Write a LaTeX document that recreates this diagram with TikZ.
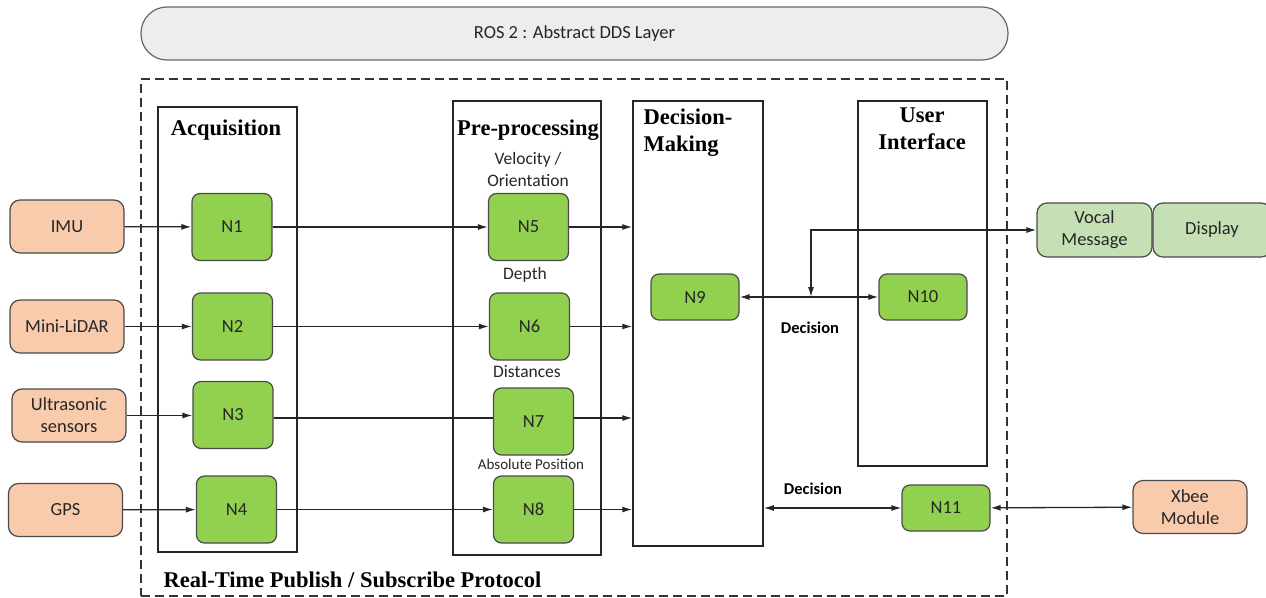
\documentclass[tikz,border=0pt]{standalone}
\usepackage{fontspec}
\setmainfont{Carlito}
\newfontfamily\hdrfont{Liberation Serif}
\usetikzlibrary{arrows.meta,positioning}
\definecolor{sensorfill}{HTML}{F8CBAD}
\definecolor{nodefill}{HTML}{92D050}
\definecolor{outfill}{HTML}{C5E0B4}
\definecolor{barfill}{HTML}{EDEDED}
\definecolor{edge}{HTML}{4A4A4A}
\tikzset{
  every node/.style={font=\fontsize{18.5}{22}\selectfont, text=black!85},
  sensor/.style={draw=edge, line width=1.2pt, fill=sensorfill, rounded corners=10pt,
    minimum width=114pt, minimum height=53pt, align=center, inner sep=0pt},
  rosnode/.style={draw=edge, line width=1.2pt, fill=nodefill, rounded corners=8pt,
    minimum width=80pt, minimum height=67pt, inner sep=0pt},
  smallnode/.style={rosnode, minimum width=88pt, minimum height=46pt},
  outbox/.style={draw=edge, line width=1.2pt, fill=outfill, rounded corners=10pt,
    minimum width=114pt, minimum height=54pt, align=center, inner sep=0pt},
  group/.style={draw=black!85, line width=1.5pt, inner sep=0pt},
  header/.style={font=\hdrfont\bfseries\fontsize{22.5}{27}\selectfont, text=black, align=center},
  topic/.style={font=\fontsize{17.5}{22}\selectfont, align=center},
  decision/.style={font=\bfseries\fontsize{16.5}{20}\selectfont, text=black},
  link/.style={line width=1.3pt, draw=black!85, -{Latex[length=10pt,width=6pt]}},
  plain/.style={line width=1.3pt, draw=black!85},
  biline/.style={line width=1.3pt, draw=black!85, {Latex[length=10pt,width=6pt]}-{Latex[length=10pt,width=6pt]}},
}
\begin{document}
\begin{tikzpicture}[x=1pt,y=-1pt]
\useasboundingbox (0,0) rectangle (1266,597);

% DDS abstraction bar
\node[draw=black!60, line width=1.2pt, fill=barfill, rounded corners=26pt,
  minimum width=867pt, minimum height=53pt, inner sep=0pt] (ros) at (574.5,33.5) {};
\node at (574.5,33.5) {ROS 2 : Abstract DDS Layer};

% real-time publish/subscribe boundary
\node[draw=black!80, line width=1.2pt, dash pattern=on 9pt off 5pt,
  minimum width=866pt, minimum height=517pt, inner sep=0pt] (rtps) at (574,337.5) {};
\node[header, anchor=west] (rtpslabel) at (160,580) {Real-Time Publish / Subscribe Protocol};

% functional groups
\node[group, minimum width=139pt, minimum height=445pt] (acq) at (227.5,329.5) {};
\node[group, minimum width=148pt, minimum height=454pt] (pre) at (527,328) {};
\node[group, minimum width=130pt, minimum height=445pt] (dm) at (698,323.5) {};
\node[group, minimum width=129pt, minimum height=365pt] (ui) at (922.5,283.5) {};

\node[header] (acqlabel) at (226,130) {Acquisition};
\node[header] (prelabel) at (528,130) {Pre-processing};
\node[header, align=left, anchor=north west] (dmlabel) at (640,105) {Decision-\\Making};
\node[header] (uilabel) at (922,129) {User\\Interface};

% sensors
\node[sensor] (imu) at (67,226.5) {IMU};
\node[sensor] (lidar) at (67,326.5) {Mini-LiDAR};
\node[sensor] (us) at (69,415.5) {Ultrasonic\\sensors};
\node[sensor] (gps) at (65.5,510) {GPS};

% acquisition nodes
\node[rosnode] (n1) at (232,227) {N1};
\node[rosnode] (n2) at (232.5,326.5) {N2};
\node[rosnode] (n3) at (233,415) {N3};
\node[rosnode] (n4) at (236.5,509.5) {N4};

% pre-processing nodes
\node[rosnode] (n5) at (528.5,227) {N5};
\node[rosnode] (n6) at (529.5,326.5) {N6};
\node[rosnode] (n7) at (533.5,421.5) {N7};
\node[rosnode] (n8) at (533.5,509.5) {N8};

\node[topic] (t5) at (528,169.5) {Velocity /\\Orientation};
\node[topic] (t6) at (525,275) {Depth};
\node[topic] (t7) at (527,372) {Distances};
\node[topic, font=\fontsize{15}{18}\selectfont] (t8) at (531,464) {Absolute Position};

% decision and interface nodes
\node[smallnode] (n9) at (695,297) {N9};
\node[smallnode] (n10) at (923,297) {N10};
\node[smallnode] (n11) at (946,508) {N11};

% outputs and external module
\node[outbox, minimum width=115pt] (vocal) at (1094.5,230) {Vocal\\Message};
\node[outbox, minimum width=118pt] (display) at (1212,230) {Display};
\node[sensor] (xbee) at (1190,507) {Xbee\\Module};

% sensor inputs
\draw[link] (imu) -- (n1);
\draw[link] (lidar) -- (n2);
\draw[link] (us.east) -- (us.east -| n3.west);
\draw[link] (gps) -- (n4);

% acquisition to pre-processing
\draw[link] (n1) -- (n5);
\draw[link] (n2) -- (n6);
\draw[plain] (n3.east |- 0,418) -- (n7.west |- 0,418);
\draw[link] (n4) -- (n8);

% pre-processing to decision making
\draw[link] (n5) -- (n5 -| dm.west);
\draw[link] (n6) -- (n6 -| dm.west);
\draw[link] (n7.east |- 0,418) -- (dm.west |- 0,418);
\draw[link] (n8) -- (n8 -| dm.west);

% decisions
\draw[biline] (n9) -- (n10);
\coordinate (split) at (811,297);
\draw[biline] (split) |- (vocal.west);
\node[decision] (dec1) at (810,328) {Decision};
\draw[biline] (n11 -| dm.east) -- (n11);
\node[decision] (dec2) at (813,489) {Decision};
\draw[biline] (n11) -- (xbee);
\end{tikzpicture}
\end{document}
